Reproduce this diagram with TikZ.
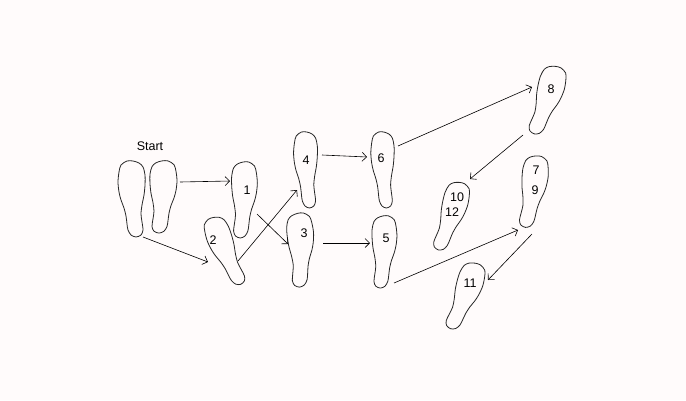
\documentclass[tikz,border=0pt]{standalone}
\usepackage{fontspec}
\setmainfont{Liberation Sans}
\usetikzlibrary{arrows.meta}
\definecolor{bg}{RGB}{255,251,251}
\begin{document}
\begin{tikzpicture}[x=1pt,y=-1pt,
  footline/.style={draw=black!85, line width=0.8pt, line join=round},
  lbl/.style={font=\fontsize{12.5}{14}\selectfont, inner sep=0pt},
  conn/.style={line width=0.6pt, -{Straight Barb[length=4.5pt,width=9pt]}},
  foot/.pic={\draw[footline] plot[smooth cycle, tension=0.5] coordinates {(-10,-34) (-12,-27) (-13,-17) (-12,-7) (-10,1) (-7,9) (-5,17) (-4,25) (-3,31) (0,36) (5,38) (10,36) (12,31) (11,23) (10,15) (11,6) (13,-4) (14,-14) (14,-24) (12,-32) (8,-36) (2,-38) (-4,-38)};}
]
\fill[bg] (0,0) rectangle (686,400);
% footprints
\pic[xscale=1] at (131,199) {foot};
\pic[xscale=-1, yscale=0.95] at (164,197) {foot};
\pic[xscale=-0.95] at (245,200) {foot};
\pic[rotate=20, xscale=0.92, yscale=0.95] at (224,252) {foot};
\pic[xscale=0.88] at (305,170) {foot};
\pic[xscale=-0.98, yscale=0.97, rotate=-4] at (302,250) {foot};
\pic[xscale=0.86] at (382,170) {foot};
\pic[xscale=-0.92, yscale=0.95] at (385,252) {foot};
\pic[rotate=-15, xscale=-0.98, yscale=0.93] at (548,101) {foot};
\pic[rotate=-6, xscale=-0.96, yscale=0.95] at (534,192) {foot};
\pic[rotate=-15, xscale=-0.93, yscale=0.93] at (452,217) {foot};
\pic[rotate=-18, xscale=-0.96, yscale=0.92] at (466,297) {foot};
% labels
\node[lbl] (start) at (150,146) {Start};
\node[lbl] (n1) at (247,190) {1};
\node[lbl] (n2) at (213,240) {2};
\node[lbl] (n3) at (304,233) {3};
\node[lbl] (n4) at (306,160) {4};
\node[lbl] (n5) at (386,238) {5};
\node[lbl] (n6) at (381,158) {6};
\node[lbl] (n7) at (536,170) {7};
\node[lbl] (n8) at (551,89) {8};
\node[lbl] (n9) at (535,190) {9};
\node[lbl] (n10) at (457,197) {10};
\node[lbl] (n12) at (452,212) {12};
\node[lbl] (n11) at (470,283) {11};
% connector ends
\coordinate (a1) at (180,182); \coordinate (b1) at (230,181);
\coordinate (a2) at (143,237); \coordinate (b2) at (208,262);
\coordinate (a3) at (238,261); \coordinate (b3) at (297,190);
\coordinate (a4) at (257,214); \coordinate (b4) at (288,244);
\coordinate (a5) at (322,155); \coordinate (b5) at (367,157);
\coordinate (a6) at (323,243); \coordinate (b6) at (370,243);
\coordinate (a7) at (398,146); \coordinate (b7) at (532,87);
\coordinate (a8) at (394,283); \coordinate (b8) at (518,230);
\coordinate (a9) at (523,135); \coordinate (b9) at (470,179);
\coordinate (a10) at (532,234); \coordinate (b10) at (488,280);
\foreach \i in {1,...,10} {\draw[conn] (a\i) -- (b\i);}
\end{tikzpicture}
\end{document}
